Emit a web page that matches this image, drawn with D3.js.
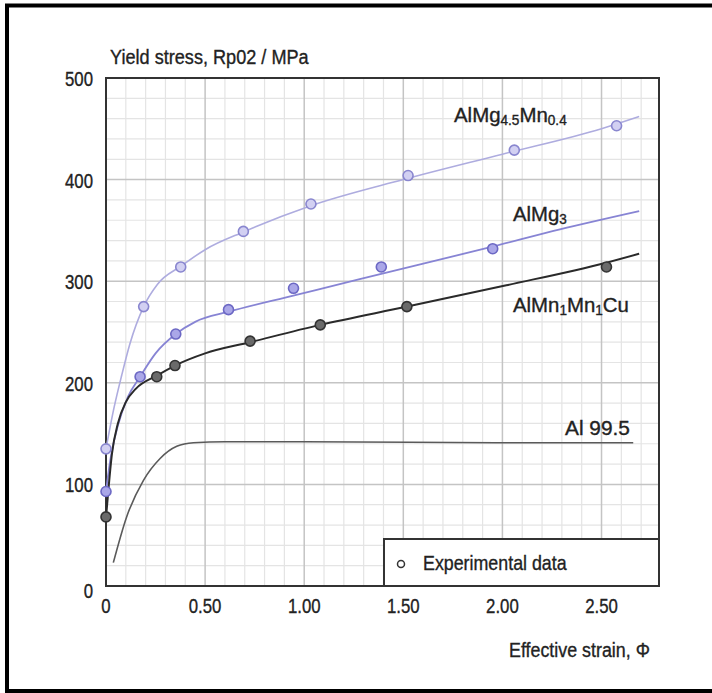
<!DOCTYPE html>
<html><head><meta charset="utf-8">
<script src="https://cdn.jsdelivr.net/npm/d3@7"></script>
<style>html,body{margin:0;padding:0;background:#fff;}svg{display:block;}text{font-family:"Liberation Sans",Arial,sans-serif;fill:#222;stroke:#222;stroke-width:0.35;}</style>
</head><body>
<svg id="c" width="712" height="693"></svg>
<script>
// ---- data ----
const xTicks = [0, 0.5, 1.0, 1.5, 2.0, 2.5];
const xTickLabels = ["0", "0.50", "1.00", "1.50", "2.00", "2.50"];
const yTicks = [0, 100, 200, 300, 400, 500];
const yTickLabels = ["0", "100", "200", "300", "400", "500"];

// fitted curves
const mg45CurveX = [0, 0.04, 0.08, 0.12, 0.19, 0.26, 0.38, 0.5, 0.7, 1.03, 1.5, 2.0, 2.5, 2.69];
const mg45CurveY = [135, 175, 208, 238, 275, 297, 315, 331, 349, 374, 400, 425, 450, 462];
const mg3CurveX = [0, 0.02, 0.06, 0.11, 0.172, 0.25, 0.352, 0.45, 0.62, 0.95, 1.28, 1.95, 2.29, 2.69];
const mg3CurveY = [93, 122, 158, 186, 206, 229, 248, 260, 270, 286, 302, 334, 351, 369];
const mnCurveX = [0, 0.01, 0.03, 0.06, 0.1, 0.15, 0.256, 0.348, 0.5, 0.727, 1.081, 1.52, 2.02, 2.52, 2.69];
const mnCurveY = [67, 90, 130, 160, 181, 194, 207, 217, 229, 240, 257, 275, 296, 318, 327];
const alCurveX = [0.037, 0.104, 0.189, 0.273, 0.357, 0.441, 0.6, 1.0, 2.0, 2.66];
const alCurveY = [23, 68, 104, 125.5, 137.5, 141, 142, 142, 141, 141];

// experimental points
const mg45PtsX = [0, 0.19, 0.377, 0.693, 1.034, 1.524, 2.06, 2.576];
const mg45PtsY = [135, 275, 314, 349, 376, 404, 429, 453];
const mg3PtsX = [0, 0.172, 0.352, 0.618, 0.946, 1.389, 1.951];
const mg3PtsY = [93, 206, 248, 272, 293, 314, 332];
const mnPtsX = [0, 0.256, 0.348, 0.727, 1.081, 1.518, 2.525];
const mnPtsY = [68, 206, 217, 241, 257, 275, 314];

const svg = d3.select("#c");
const x = d3.scaleLinear().domain([0, 2.79]).range([106, 659]);
const y = d3.scaleLinear().domain([0, 500]).range([586, 78]);

// outer frame (top, left, bottom)
svg.append("path").attr("d", "M712,5.5 H7 V691 H712").attr("fill", "none").attr("stroke", "#000").attr("stroke-width", 4);

// grid
const g = svg.append("g");
const minorX = d3.range(1, 28).map(i => i / 10).filter(v => Math.abs(v * 2 - Math.round(v * 2)) > 1e-6);
const minorY = d3.range(20, 500, 20).filter(v => v % 100 !== 0);
g.selectAll(".mx").data(minorX).enter().append("line")
  .attr("x1", d => x(d)).attr("x2", d => x(d)).attr("y1", y(0)).attr("y2", y(500))
  .attr("stroke", "#e4e4e4").attr("stroke-width", 1.2);
g.selectAll(".my").data(minorY).enter().append("line")
  .attr("y1", d => y(d)).attr("y2", d => y(d)).attr("x1", x(0)).attr("x2", x(2.79))
  .attr("stroke", "#e4e4e4").attr("stroke-width", 1.2);
g.selectAll(".Mx").data(xTicks.slice(1)).enter().append("line")
  .attr("x1", d => x(d)).attr("x2", d => x(d)).attr("y1", y(0)).attr("y2", y(500))
  .attr("stroke", "#c4c4c4").attr("stroke-width", 1.5);
g.selectAll(".My").data(yTicks.slice(1, -1)).enter().append("line")
  .attr("y1", d => y(d)).attr("y2", d => y(d)).attr("x1", x(0)).attr("x2", x(2.79))
  .attr("stroke", "#c4c4c4").attr("stroke-width", 1.5);

// plot border
svg.append("rect").attr("x", x(0)).attr("y", y(500)).attr("width", x(2.79) - x(0)).attr("height", y(0) - y(500))
  .attr("fill", "none").attr("stroke", "#333").attr("stroke-width", 2);

// helper: horizontally condensed text
function ctext(px, py, anchor, sx, build, size) {
  const gg = svg.append("g").attr("transform", `translate(${px},${py}) scale(${sx},1)`);
  const t = gg.append("text").attr("text-anchor", anchor).attr("font-size", size || 21);
  build(t);
  return t;
}
function fitText(x0, x1, py, build, size) {
  const gg = svg.append("g");
  const t = gg.append("text").attr("font-size", size || 21);
  build(t);
  const bb = t.node().getBBox();
  const sx = (x1 - x0) / bb.width;
  gg.attr("transform", `translate(${x0 - bb.x * sx},${py}) scale(${sx},1)`);
  return t;
}

// axis tick labels
xTicks.forEach((v, i) => ctext(x(v), 613, "middle", 0.8, t => t.text(xTickLabels[i])));
yTicks.forEach((v, i) => ctext(93, y(v) + 8 + (v === 0 ? 4 : 0), "end", 0.8, t => t.text(yTickLabels[i])));

// titles
fitText(110, 309, 64, t => t.text("Yield stress, Rp02 / MPa"));
fitText(509, 650, 657, t => t.text("Effective strain, \u03A6"));

// curves
const line = d3.line().x(d => x(d[0])).y(d => y(d[1])).curve(d3.curveMonotoneX);
const zip = (a, b) => a.map((v, i) => [v, b[i]]);
svg.append("path").datum(zip(alCurveX, alCurveY)).attr("d", line).attr("fill", "none").attr("stroke", "#5a5a5a").attr("stroke-width", 1.6);
svg.append("path").datum(zip(mg45CurveX, mg45CurveY)).attr("d", line).attr("fill", "none").attr("stroke", "#aeacdf").attr("stroke-width", 1.6);
svg.append("path").datum(zip(mg3CurveX, mg3CurveY)).attr("d", line).attr("fill", "none").attr("stroke", "#8784d4").attr("stroke-width", 1.8);
svg.append("path").datum(zip(mnCurveX, mnCurveY)).attr("d", line).attr("fill", "none").attr("stroke", "#2a2a2a").attr("stroke-width", 2);

function pts(xs, ys, fill, stroke) {
  svg.append("g").selectAll("circle").data(zip(xs, ys)).enter().append("circle")
    .attr("cx", d => x(d[0])).attr("cy", d => y(d[1])).attr("r", 5)
    .attr("fill", fill).attr("stroke", stroke).attr("stroke-width", 1.6);
}
pts(mg45PtsX, mg45PtsY, "#d2d0f2", "#8986cf");
pts(mg3PtsX, mg3PtsY, "#aaa7e8", "#6c68c4");
pts(mnPtsX, mnPtsY, "#6a6a6a", "#333");

// series labels
fitText(454, 567, 122, t => {
  t.append("tspan").text("AlMg");
  t.append("tspan").attr("font-size", 14).attr("dy", 3).text("4.5");
  t.append("tspan").attr("dy", -3).text("Mn");
  t.append("tspan").attr("font-size", 14).attr("dy", 3).text("0.4");
});
fitText(513, 567, 221, t => {
  t.append("tspan").text("AlMg");
  t.append("tspan").attr("font-size", 14).attr("dy", 3).text("3");
});
fitText(513, 629, 312, t => {
  t.append("tspan").text("AlMn");
  t.append("tspan").attr("font-size", 14).attr("dy", 3).text("1");
  t.append("tspan").attr("dy", -3).text("Mn");
  t.append("tspan").attr("font-size", 14).attr("dy", 3).text("1");
  t.append("tspan").attr("dy", -3).text("Cu");
});
fitText(565, 630, 435, t => t.text("Al 99.5"));

// legend
svg.append("rect").attr("x", 384).attr("y", 539).attr("width", 659 - 384).attr("height", 586 - 539)
  .attr("fill", "#fff").attr("stroke", "#333").attr("stroke-width", 2);
svg.append("circle").attr("cx", 401).attr("cy", 564).attr("r", 3.5).attr("fill", "#fff").attr("stroke", "#333").attr("stroke-width", 1.5);
fitText(423, 567, 570, t => t.text("Experimental data"));
</script>
</body></html>
